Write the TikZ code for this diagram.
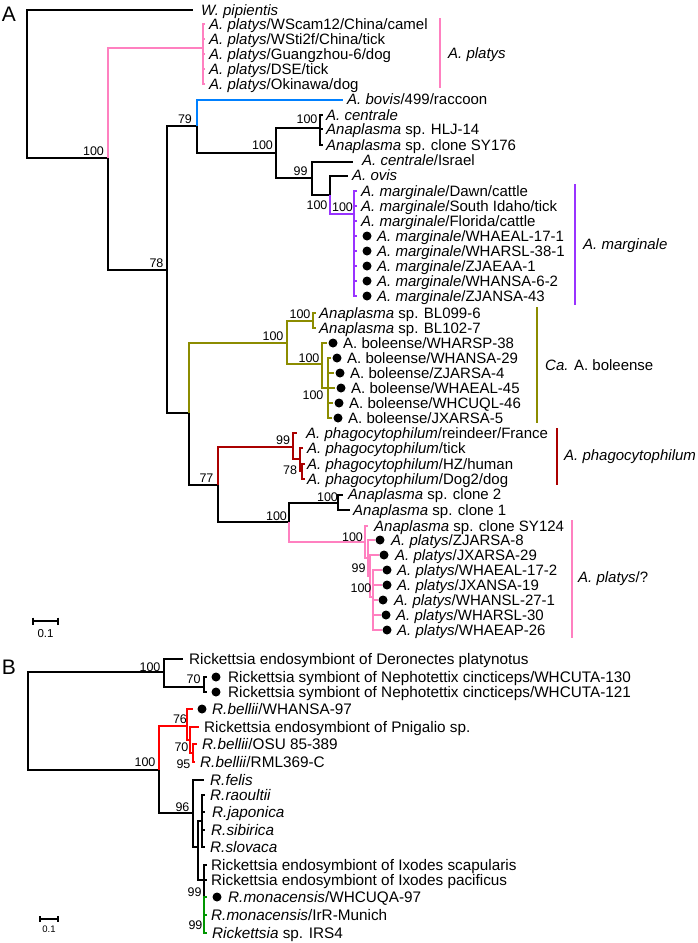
\documentclass[tikz,border=0pt]{standalone}
\usepackage{fontspec}
\setmainfont{Liberation Sans}
\definecolor{pinkc}{RGB}{255,128,192}
\definecolor{bluec}{RGB}{0,128,255}
\definecolor{purpc}{RGB}{153,51,255}
\definecolor{olivec}{RGB}{140,140,0}
\definecolor{darkredc}{RGB}{170,0,0}
\definecolor{redc}{RGB}{255,0,0}
\definecolor{greenc}{RGB}{0,150,0}
\newcommand\leafl[4]{\node[lab] (#1) at (#2,#3) {#4};}
\newcommand\leafb[4]{\node[labb] (#1) at (#2,#3) {#4};}
\newcommand\bsl[4]{\node[bs] (#1) at (#2,#3) {#4};}
\begin{document}
\begin{tikzpicture}[x=1pt,y=-1pt,
  br/.style={line width=1.2pt},
  brk/.style={line width=1.4pt},
  lab/.style={anchor=base west, inner sep=0pt, yshift=-5.4pt, font=\fontsize{15}{15}\selectfont},
  labb/.style={lab, font=\fontsize{15.3}{15.3}\selectfont},
  bs/.style={inner sep=0pt, font=\fontsize{12.5}{12.5}\selectfont},
  dot/.style={circle, fill=black, inner sep=0pt, minimum size=9pt},
  panel/.style={inner sep=0pt, font=\fontsize{21}{21}\selectfont}]
\useasboundingbox (0,0) rectangle (697,943);
% ================= Panel A =================
\node[panel] (pA) at (9,14.5) {A};
\coordinate (rA) at (27,84);
\coordinate (tW) at (193,10);
\draw[br] (rA) |- (tW);
\leafl{lW}{201}{10}{\textit{W. pipientis}}
\coordinate (n108) at (108,158);
\draw[br] (rA) |- (n108);
\bsl{b108}{93.5}{151}{100}
% A. platys top
\coordinate (nPl) at (203,48);
\draw[br,pinkc] (n108) |- (nPl);
\foreach \i/\y in {1/24,2/39,3/54,4/69,5/84} {\coordinate (tPl\i) at (205,\y); \draw[br,pinkc] (nPl) |- (tPl\i);}
\leafl{lPl1}{209}{24}{\textit{A. platys}/WScam12/China/camel}
\leafl{lPl2}{209}{39}{\textit{A. platys}/WSti2f/China/tick}
\leafl{lPl3}{209}{54}{\textit{A. platys}/Guangzhou-6/dog}
\leafl{lPl4}{209}{69}{\textit{A. platys}/DSE/tick}
\leafl{lPl5}{209}{84}{\textit{A. platys}/Okinawa/dog}
% main
\coordinate (n167) at (167,270);
\draw[br] (n108) |- (n167);
\bsl{b167}{156.5}{263}{78}
\coordinate (n197) at (197,126);
\coordinate (n189) at (189,413);
\draw[br] (n167) |- (n197);
\draw[br] (n167) |- (n189);
\bsl{b197}{185}{119}{79}
\coordinate (tBov) at (343,100);
\draw[br,bluec] (n197) |- (tBov);
\leafl{lBov}{347}{99}{\textit{A. bovis}/499/raccoon}
\coordinate (n276) at (276,153);
\draw[br] (n197) |- (n276);
\bsl{b276}{262.5}{145}{100}
\coordinate (n320) at (320,128);
\coordinate (n312) at (312,178);
\draw[br] (n276) |- (n320);
\draw[br] (n276) |- (n312);
\bsl{b320}{307}{119}{100}
\foreach \i/\y in {1/115,2/129,3/145} {\coordinate (tC\i) at (323,\y); \draw[br] (n320) |- (tC\i);}
\leafl{lC1}{326}{115}{\textit{A. centrale}}
\leafl{lC2}{326}{129}{\textit{Anaplasma} sp. HLJ-14}
\leafl{lC3}{326}{145}{\textit{Anaplasma} sp. clone SY176}
\bsl{b312}{300.5}{171}{99}
\coordinate (tIsr) at (353,162);
\draw[br] (n312) |- (tIsr);
\leafl{lIsr}{362}{160}{\textit{A. centrale}/Israel}
\coordinate (n330) at (330,195);
\draw[br] (n312) |- (n330);
\bsl{b330}{317}{205}{100}
\coordinate (tOv) at (348,176);
\draw[br] (n330) |- (tOv);
\leafl{lOv}{352}{175}{\textit{A. ovis}}
\coordinate (n354) at (354,214);
\draw[br,purpc] (n330) |- (n354);
\bsl{b354}{342.5}{207}{100}
\foreach \i/\y in {1/191,2/206,3/221,4/236,5/251,6/266,7/281,8/296} {\coordinate (tM\i) at (357,\y); \draw[br,purpc] (n354) |- (tM\i);}
\leafl{lM1}{361}{191}{\textit{A. marginale}/Dawn/cattle}
\leafl{lM2}{361}{206}{\textit{A. marginale}/South Idaho/tick}
\leafl{lM3}{361}{221}{\textit{A. marginale}/Florida/cattle}
\foreach \i/\y in {4/236,5/251,6/266,7/281,8/296} \node[dot] (dM\i) at (367,\y) {};
\leafl{lM4}{377}{236}{\textit{A. marginale}/WHAEAL-17-1}
\leafl{lM5}{377}{251}{\textit{A. marginale}/WHARSL-38-1}
\leafl{lM6}{377}{266}{\textit{A. marginale}/ZJAEAA-1}
\leafl{lM7}{377}{281}{\textit{A. marginale}/WHANSA-6-2}
\leafl{lM8}{377}{296}{\textit{A. marginale}/ZJANSA-43}
% olive
\coordinate (nOl) at (287,343);
\draw[br,olivec] (n189) |- (nOl);
\bsl{bOl}{273}{336}{100}
\coordinate (nBL) at (313,321);
\coordinate (n322) at (322,364);
\draw[br,olivec] (nOl) |- (nBL);
\draw[br,olivec] (nOl) |- (n322);
\bsl{bBL}{300}{314.5}{100}
\coordinate (tBL1) at (316,313); \coordinate (tBL2) at (316,328);
\draw[br,olivec] (nBL) |- (tBL1); \draw[br,olivec] (nBL) |- (tBL2);
\leafl{lBL1}{319}{313}{\textit{Anaplasma} sp. BL099-6}
\leafl{lBL2}{319}{328}{\textit{Anaplasma} sp. BL102-7}
\bsl{b322}{309}{358}{100}
\coordinate (tB1) at (327,343);
\draw[br,olivec] (n322) |- (tB1);
\coordinate (n328) at (328,388);
\draw[br,olivec] (n322) |- (n328);
\bsl{b328}{313}{395}{100}
\foreach \i/\y/\x in {2/358/331,3/373/334,4/388/335,5/403/333,6/418/332} {\coordinate (tB\i) at (\x,\y); \draw[br,olivec] (n328) |- (tB\i);}
\foreach \i/\y/\x in {1/343/333,2/358/337,3/373/340,4/388/341,5/403/339,6/418/338} \node[dot] (dB\i) at (\x,\y) {};
\leafl{lB1}{343}{343}{A. boleense/WHARSP-38}
\leafl{lB2}{347}{358}{A. boleense/WHANSA-29}
\leafl{lB3}{350}{373}{A. boleense/ZJARSA-4}
\leafl{lB4}{351}{388}{A. boleense/WHAEAL-45}
\leafl{lB5}{349}{403}{A. boleense/WHCUQL-46}
\leafl{lB6}{348}{418}{A. boleense/JXARSA-5}
% phagocytophilum
\coordinate (n218) at (218,485);
\draw[br] (n189) |- (n218);
\bsl{b218}{206.5}{478}{77}
\coordinate (nPh) at (293,447);
\draw[br,darkredc] (n218) |- (nPh);
\bsl{bPh}{283}{440}{99}
\coordinate (tPh1) at (297,433);
\coordinate (nPh2) at (300,459);
\draw[br,darkredc] (nPh) |- (tPh1);
\draw[br,darkredc] (nPh) |- (nPh2);
\coordinate (tPh2) at (303,448);
\coordinate (nPh3) at (302,471);
\draw[br,darkredc] (nPh2) |- (tPh2);
\draw[br,darkredc] (nPh2) |- (nPh3);
\bsl{bPh3}{290}{470.5}{78}
\coordinate (tPh3) at (305,464); \coordinate (tPh4) at (305,479);
\draw[br,darkredc] (nPh3) |- (tPh3); \draw[br,darkredc] (nPh3) |- (tPh4);
\leafl{lPh1}{306}{433}{\textit{A. phagocytophilum}/reindeer/France}
\leafl{lPh2}{307}{448}{\textit{A. phagocytophilum}/tick}
\leafl{lPh3}{307}{464}{\textit{A. phagocytophilum}/HZ/human}
\leafl{lPh4}{307}{479}{\textit{A. phagocytophilum}/Dog2/dog}
% clones
\coordinate (n289) at (289,522);
\draw[br] (n218) |- (n289);
\bsl{b289}{276.5}{516}{100}
\coordinate (nCl) at (338,503);
\draw[br] (n289) |- (nCl);
\bsl{bCl}{327.5}{497.5}{100}
\coordinate (tCl1) at (343,495); \coordinate (tCl2) at (350,510);
\draw[br] (nCl) |- (tCl1); \draw[br] (nCl) |- (tCl2);
\leafl{lCl1}{348}{494}{\textit{Anaplasma} sp. clone 2}
\leafl{lCl2}{353}{510}{\textit{Anaplasma} sp. clone 1}
% lower platys
\coordinate (nP2) at (365,542);
\draw[br,pinkc] (n289) |- (nP2);
\bsl{bP2}{352.5}{537}{100}
\coordinate (tS) at (368,526);
\coordinate (nP3) at (368,558);
\draw[br,pinkc] (nP2) |- (tS); \draw[br,pinkc] (nP2) |- (nP3);
\coordinate (tZ8) at (375,540);
\coordinate (nP4) at (370,576);
\draw[br,pinkc] (nP3) |- (tZ8); \draw[br,pinkc] (nP3) |- (nP4);
\bsl{bP4}{358.5}{568}{99}
\coordinate (tJ29) at (379,555);
\coordinate (nP5) at (373,597);
\draw[br,pinkc] (nP4) |- (tJ29); \draw[br,pinkc] (nP4) |- (nP5);
\bsl{bP5}{361}{588}{100}
\foreach \i/\y/\x in {1/570/382,2/585/382,3/600/378,4/615/381,5/630/382} {\coordinate (tQ\i) at (\x,\y); \draw[br,pinkc] (nP5) |- (tQ\i);}
\leafl{lS}{374}{526}{\textit{Anaplasma} sp. clone SY124}
\foreach \n/\y/\x in {a/540/380,b/555/384,c/570/387,d/585/387,e/600/383,f/615/386,g/630/387} \node[dot] (dQ\n) at (\x,\y) {};
\leafl{lQa}{391}{540}{\textit{A. platys}/ZJARSA-8}
\leafl{lQb}{395}{555}{\textit{A. platys}/JXARSA-29}
\leafl{lQc}{397}{570}{\textit{A. platys}/WHAEAL-17-2}
\leafl{lQd}{397}{585}{\textit{A. platys}/JXANSA-19}
\leafl{lQe}{394}{600}{\textit{A. platys}/WHANSL-27-1}
\leafl{lQf}{396}{615}{\textit{A. platys}/WHARSL-30}
\leafl{lQg}{397}{630}{\textit{A. platys}/WHAEAP-26}
% clade brackets
\coordinate (k1a) at (440,18); \coordinate (k1b) at (440,88);
\draw[brk,pinkc] (k1a) -- (k1b);
\leafl{K1}{448}{53}{\textit{A. platys}}
\coordinate (k2a) at (575,184); \coordinate (k2b) at (575,305);
\draw[brk,purpc] (k2a) -- (k2b);
\leafl{K2}{583}{244}{\textit{A. marginale}}
\coordinate (k3a) at (537,307); \coordinate (k3b) at (537,423);
\draw[brk,olivec] (k3a) -- (k3b);
\leafl{K3}{545}{365}{\textit{Ca.} A. boleense}
\coordinate (k4a) at (557,428); \coordinate (k4b) at (557,485);
\draw[brk,darkredc] (k4a) -- (k4b);
\leafl{K4}{564}{455}{\textit{A. phagocytophilum}}
\coordinate (k5a) at (572,520); \coordinate (k5b) at (572,638);
\draw[brk,pinkc] (k5a) -- (k5b);
\leafl{K5}{578}{577}{\textit{A. platys}/?}
% scale A
\coordinate (sA1) at (33,621); \coordinate (sA2) at (58,621);
\draw[br] (sA1) -- (sA2);
\draw[br] ([yshift=3.5pt]sA1) -- ([yshift=-3.5pt]sA1);
\draw[br] ([yshift=3.5pt]sA2) -- ([yshift=-3.5pt]sA2);
\node[inner sep=0pt, font=\fontsize{11.5}{11.5}\selectfont] (sAl) at (45.5,634) {0.1};
% ================= Panel B =================
\node[panel] (pB) at (9,667) {B};
\coordinate (rB) at (28,721);
\coordinate (nB1) at (164,672);
\coordinate (nB2) at (159,770);
\draw[br] (rB) |- (nB1); \draw[br] (rB) |- (nB2);
\bsl{bB1}{150}{667}{100}
\coordinate (tDer) at (183,659);
\draw[br] (nB1) |- (tDer);
\leafb{lDer}{189}{659}{Rickettsia endosymbiont of Deronectes platynotus}
\coordinate (nB3) at (204,687);
\draw[br] (nB1) |- (nB3);
\bsl{bB3}{193.5}{679}{70}
\coordinate (tN1) at (207,677); \coordinate (tN2) at (207,692);
\draw[br] (nB3) |- (tN1); \draw[br] (nB3) |- (tN2);
\node[dot] (dN1) at (216,677) {}; \node[dot] (dN2) at (216,692) {};
\leafb{lN1}{228}{677}{Rickettsia symbiont of Nephotettix cincticeps/WHCUTA-130}
\leafb{lN2}{228}{692}{Rickettsia symbiont of Nephotettix cincticeps/WHCUTA-121}
\bsl{bB2}{145}{762}{100}
\coordinate (nR) at (187,726);
\draw[br,redc] (nB2) |- (nR);
\bsl{bR}{180}{719}{76}
\coordinate (tR1) at (193,709);
\coordinate (nR2) at (190,740);
\draw[br,redc] (nR) |- (tR1); \draw[br,redc] (nR) |- (nR2);
\coordinate (tPn) at (199,727);
\coordinate (nR3) at (193,753);
\draw[br,redc] (nR2) |- (tPn); \draw[br,redc] (nR2) |- (nR3);
\bsl{bR3}{181.5}{747.5}{70}
\bsl{bR4}{183.5}{764}{95}
\coordinate (tOSU) at (197,744); \coordinate (tRML) at (195,762);
\draw[br,redc] (nR3) |- (tOSU); \draw[br,redc] (nR3) |- (tRML);
\node[dot] (dR1) at (202,709) {};
\leafb{lR1}{212}{709}{\textit{R.bellii}/WHANSA-97}
\leafb{lPn}{204}{727}{Rickettsia endosymbiont of Pnigalio sp.}
\leafb{lOSU}{202}{744}{\textit{R.bellii}/OSU 85-389}
\leafb{lRML}{200}{762}{\textit{R.bellii}/RML369-C}
\coordinate (nB4) at (193,813);
\draw[br] (nB2) |- (nB4);
\bsl{bB4}{182.5}{807}{96}
\coordinate (tFel) at (204,780);
\draw[br] (nB4) |- (tFel);
\leafb{lFel}{210}{780}{\textit{R.felis}}
\coordinate (nB5) at (198,847);
\draw[br] (nB4) |- (nB5);
\coordinate (nB6) at (202,821);
\draw[br] (nB5) |- (nB6);
\foreach \i/\y in {1/795,2/812,3/830,4/847} {\coordinate (tS\i) at (205,\y); \draw[br] (nB6) |- (tS\i);}
\leafb{lS1}{210}{795}{\textit{R.raoultii}}
\leafb{lS2}{212}{812}{\textit{R.japonica}}
\leafb{lS3}{211}{830}{\textit{R.sibirica}}
\leafb{lS4}{210}{847}{\textit{R.slovaca}}
\coordinate (nB7) at (204,880);
\draw[br] (nB5) |- (nB7);
\bsl{bB7}{194.5}{892}{99}
\foreach \i/\y in {1/865,2/880} {\coordinate (tI\i) at (207,\y); \draw[br] (nB7) |- (tI\i);}
\coordinate (tMo) at (207,897);
\draw[br] (nB7) |- (tMo);
\coordinate (nG) at (204,924);
\draw[br,greenc] (tMo) -| (nG);
\bsl{bG}{195.5}{925}{99}
\coordinate (tG1) at (207,915); \coordinate (tG2) at (207,933);
\draw[br,greenc] (nG) |- (tG1); \draw[br,greenc] (nG) |- (tG2);
\leafb{lI1}{211}{865}{Rickettsia endosymbiont of Ixodes scapularis}
\leafb{lI2}{211}{880}{Rickettsia endosymbiont of Ixodes pacificus}
\node[dot] (dMo) at (217,897) {};
\leafb{lMo}{228}{897}{\textit{R.monacensis}/WHCUQA-97}
\leafb{lG1}{211}{915}{\textit{R.monacensis}/IrR-Munich}
\leafb{lG2}{212}{933}{\textit{Rickettsia} sp. IRS4}
% scale B
\coordinate (sB1) at (40,919); \coordinate (sB2) at (58,919);
\draw[br] (sB1) -- (sB2);
\draw[br] ([yshift=3pt]sB1) -- ([yshift=-3pt]sB1);
\draw[br] ([yshift=3pt]sB2) -- ([yshift=-3pt]sB2);
\node[inner sep=0pt, font=\fontsize{9.5}{9.5}\selectfont] (sBl) at (49,929) {0.1};
\end{tikzpicture}
\end{document}
